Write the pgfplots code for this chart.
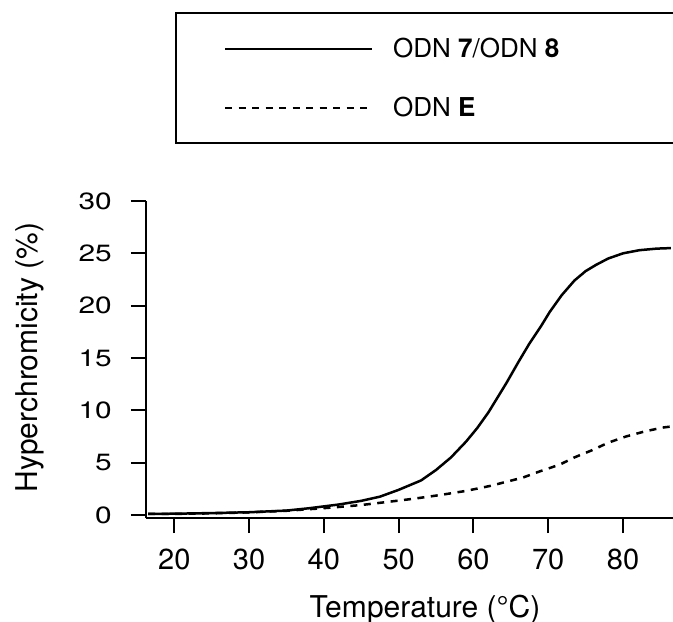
\documentclass[border=0pt]{standalone}
\usepackage{fontspec}
\setmainfont{TeX Gyre Heros}
\usepackage{pgfplots}
\pgfplotsset{compat=1.18}
\begin{document}
\fontsize{24bp}{29bp}\selectfont
\begin{tikzpicture}
\begin{axis}[name=ax, at={(0,0)}, anchor=south west,
  scale only axis, width=527bp, height=317bp,
  xmin=16.22, xmax=86.68, ymin=-0.29, ymax=30,
  axis x line*=bottom, axis y line*=left,
  axis line style={-, line width=2bp, black},
  xtick={20,30,...,80}, ytick={0,5,...,30},
  tick align=outside, major tick length=15bp,
  tick style={line width=2bp, black},
  /pgf/number format/assume math mode=true,
  yticklabel={\scalebox{1.27}[1]{\pgfmathprintnumber{\tick}}},
  xticklabel style={font=\fontsize{29bp}{34bp}\selectfont, inner sep=0pt, yshift=-16bp},
  yticklabel style={font=\fontsize{23.5bp}{28bp}\selectfont, inner sep=0pt, xshift=-19bp},
  xlabel={Temperature (°C)}, ylabel={Hyperchromicity (\%)},
  xlabel style={font=\fontsize{30bp}{36bp}\selectfont, at={(axis description cs:0.5294,-0.3123)}, anchor=base},
  ylabel style={font=\fontsize{30bp}{36bp}\selectfont, at={(axis description cs:-0.2068,0.506)}, anchor=base},
  legend style={at={(axis description cs:0.0550,1.5962)}, anchor=north west,
    draw=black, line width=2.5bp, inner xsep=48bp, inner ysep=27bp,
    row sep=42bp, column sep=20bp,
    font=\fontsize{26bp}{31bp}\selectfont,
    nodes={inner sep=0pt, text height=17bp, text depth=0pt}},
  legend cell align=left,
  legend image code/.code={\draw[#1,line width=2bp] (0bp,0bp) -- (147bp,0bp);},
]
\addplot[black, line width=2.5bp, mark=none] coordinates {
(16.5,0.10) (20,0.12) (25,0.18) (30,0.26) (35,0.42) (38,0.64) (42,1.0)
(45,1.35) (47.5,1.75) (50,2.4) (53,3.3) (55,4.3) (57,5.5) (59,7.0)
(60.5,8.3) (62,9.8) (64.4,12.6) (66,14.6) (67.5,16.4) (69,18.0)
(70.2,19.4) (71.8,21.0) (73.5,22.4) (75,23.3) (76.4,23.9) (78,24.5)
(80,25.0) (82.2,25.3) (84.5,25.45) (86.4,25.5)};
\addlegendentry{\makebox[300bp][l]{ODN \textbf{7}/ODN \textbf{8}}}
\addplot[black, line width=2.5bp, mark=none, dash pattern=on 7bp off 6.5bp] coordinates {
(16.5,0.10) (20,0.10) (25,0.15) (30,0.25) (35,0.40) (40,0.65) (42.6,0.8)
(45,0.95) (48.8,1.27) (52,1.55) (55.5,1.9) (59,2.3) (62.2,2.77)
(66.6,3.57) (69,4.2) (71.5,4.8) (73.5,5.5) (75.9,6.2) (78,6.9)
(80.4,7.5) (83,8.0) (85.3,8.35) (86.4,8.45)};
\addlegendentry{\makebox[300bp][l]{ODN \textbf{E}}}
\end{axis}
\pgfresetboundingbox
\path (-146bp,-104bp) rectangle (527bp,518bp);
\end{tikzpicture}
\end{document}
